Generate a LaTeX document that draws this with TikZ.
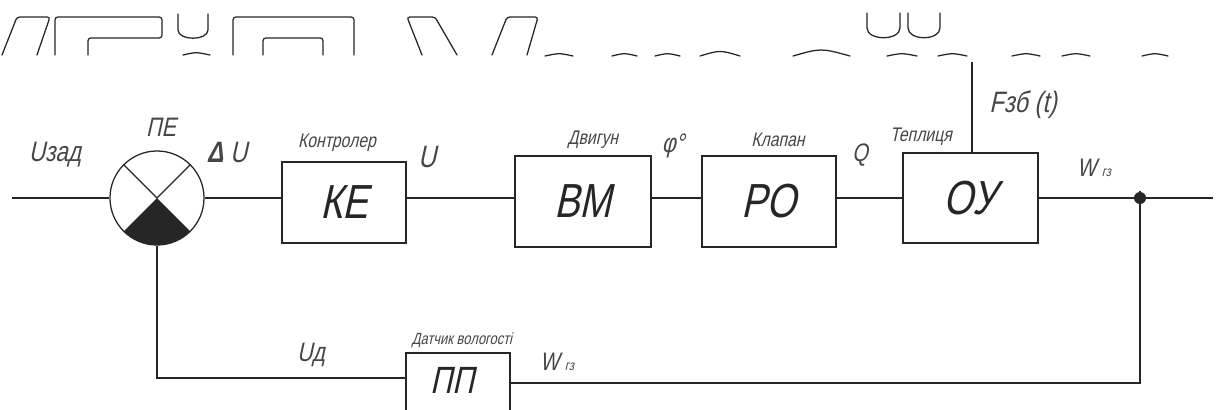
\documentclass[tikz,border=0pt]{standalone}
\usepackage{fontspec}
\setmainfont{Liberation Sans}[FakeSlant=0.22,FakeStretch=0.8]
\usetikzlibrary{calc}
\definecolor{ink}{HTML}{262626}
\definecolor{lbl}{HTML}{464646}
\begin{document}
\begin{tikzpicture}[x=0.025cm,y=-0.025cm,
  wire/.style={draw=ink,line width=0.8pt},
  blk/.style={draw=ink,line width=0.9pt,inner sep=0pt,text=ink,
    font=\fontsize{34}{34}\selectfont},
  tag/.style={text=lbl,inner sep=0pt,font=\fontsize{18}{18}\selectfont},
  smalltag/.style={text=lbl,inner sep=0pt,font=\fontsize{14}{14}\selectfont},
  entry/.style={draw=ink,line width=1.6pt},
  frag/.style={draw=ink,line width=0.9pt,rounded corners=2pt,line cap=round}]
\fill[white] (0,0) rectangle (1216,409);
\useasboundingbox (0,0) rectangle (1216,409);

% cut-off heading line
\draw[frag] (2,55) -- (17,17) -- (50,17) -- (37,55);
\draw[frag] (55,55) -- (55,17) -- (162,17) -- (162,38) -- (88,38) -- (88,55);
\draw[frag] (178,14) -- (178,27) .. controls (178,41) and (208,41) .. (208,27) -- (208,14);
\draw[frag] (183,55) .. controls (196,52) .. (210,55);
\draw[frag] (233,55) -- (233,17) -- (354,17) -- (354,55);
\draw[frag] (263,55) -- (263,38) -- (323,38) -- (323,55);
\draw[frag] (422,55) -- (407,17) -- (435,17) -- (457,55);
\draw[frag] (492,55) -- (507,17) -- (538,17) -- (527,55);
\foreach \a/\b in {545/573,612/637,655/680,887/917,938/967,1012/1040,1062/1090,1142/1168}
  \draw[frag] (\a,56) .. controls ({(\a+\b)/2},53) .. (\b,56);
\draw[frag] (700,56) .. controls (720,50) .. (740,56);
\draw[frag] (793,56) .. controls (821,48) .. (850,56);
\draw[frag] (867,13) -- (867,25) .. controls (867,41) and (900,41) .. (900,25) -- (900,13);
\draw[frag] (908,13) -- (908,25) .. controls (908,41) and (940,41) .. (940,25) -- (940,13);

% comparison element
\node[draw=ink,line width=0.9pt,circle,minimum size=2.35cm,inner sep=0pt] (pe) at (157,198) {};
\fill[ink,shift={(pe.center)}] (0,0) -- (225:1.175cm) arc[start angle=225,end angle=315,radius=1.175cm] -- cycle;
\draw[wire,shift={(pe.center)}] (135:1.175cm) -- (0,0) -- (45:1.175cm);

% blocks
\node[blk,minimum width=3.1cm,minimum height=2.025cm] (ke) at (344,202.5) {КЕ};
\node[blk,minimum width=3.4cm,minimum height=2.275cm] (bm) at (583,201.5) {ВМ};
\node[blk,minimum width=3.35cm,minimum height=2.275cm] (po) at (769,201.5) {РО};
\node[blk,minimum width=3.375cm,minimum height=2.25cm] (oy) at (970.5,198) {ОУ};
\node[blk,minimum width=2.6cm,minimum height=2.175cm] (pp) at (458,396.5) {};
\node[text=ink,inner sep=0pt,font=\fontsize{27}{27}\selectfont] (ppt) at (452,380) {ПП};

% forward path
\coordinate (in) at (12,198);
\coordinate (jn) at (1140,198);
\coordinate (out) at (1213,198);
\draw[wire] (in) -- (pe.west);
\draw[wire] (pe.east) -- (pe.east -| ke.west);
\draw[wire] (ke.east |- pe.east) -- (bm.west |- pe.east);
\draw[wire] (bm.east |- pe.east) -- (po.west |- pe.east);
\draw[wire] (po.east |- pe.east) -- (oy.west |- pe.east);
\draw[wire] (oy.east |- pe.east) -- (jn) -- (out);
\fill[ink] (jn) circle (0.15cm);

% disturbance input
\coordinate (fz) at (972,62);
\draw[wire] (fz) -- (fz |- oy.north);

% feedback path
\coordinate (fbr) at (1140,383);
\coordinate (fbl) at (157,378);
\draw[wire] (jn) -- (fbr) -- (pp.east |- fbr);
\draw[wire] (pp.west |- fbl) -- (fbl) -- (pe.south);

% entry marks on the signal lines
\draw[entry] ([xshift=-0.42cm]pe.west) -- (pe.west);
\draw[entry] ([xshift=-0.42cm]pe.east -| ke.west) -- (pe.east -| ke.west);
\draw[entry] ([xshift=-0.42cm]pe.east -| bm.west) -- (pe.east -| bm.west);
\draw[entry] ([xshift=-0.42cm]pe.east -| po.west) -- (pe.east -| po.west);
\draw[entry] ([xshift=-0.42cm]pe.east -| oy.west) -- (pe.east -| oy.west);
\draw[entry] ([xshift=-0.5cm]out) -- ([xshift=-0.1cm]out);
\draw[entry] ([yshift=0.42cm]fz |- oy.north) -- (fz |- oy.north);
\draw[entry] ([xshift=0.2cm]pp.east |- fbr) -- ([xshift=0.45cm]pp.east |- fbr);
\draw[ink,line width=1.4pt] (jn) ++(-0.18cm,0) -- ++(0.36cm,0) (jn) ++(0,-0.18cm) -- ++(0,0.36cm);

% signal and block captions
\node[tag,font=\fontsize{20}{20}\selectfont] (luz) at (55,155) {Uзад};
\node[tag,font=\fontsize{19}{19}\selectfont] (lpe) at (161,127) {ПЕ};
\node[tag,font=\fontsize{21}{21}\selectfont] (ldu) at (227,152) {\textbf{Δ} U};
\node[smalltag] (lke) at (337,143) {Контролер};
\node[tag,font=\fontsize{22}{22}\selectfont] (lu) at (427,157) {U};
\node[smalltag] (lbm) at (593,140) {Двигун};
\node[tag,font=\fontsize{19}{19}\selectfont] (lphi) at (673,146) {φ°};
\node[smalltag] (lpo) at (778,140) {Клапан};
\node[tag] (lq) at (860,155) {Q};
\node[smalltag] (loy) at (921,137) {Теплиця};
\node[tag,font=\fontsize{21}{21}\selectfont] (lf) at (1023,105) {Fзб (t)};
\node[tag] (lw) at (1094,168) {W\hspace{4pt}{\fontsize{10}{10}\selectfont гз}};
\node[tag,font=\fontsize{19}{19}\selectfont] (lud) at (311,355) {Uд};
\node[smalltag,font=\fontsize{11.5}{11.5}\selectfont] (lpp) at (462,340) {Датчик вологості};
\node[tag] (lw2) at (557,362) {W\hspace{4pt}{\fontsize{10}{10}\selectfont гз}};
\end{tikzpicture}
\end{document}
